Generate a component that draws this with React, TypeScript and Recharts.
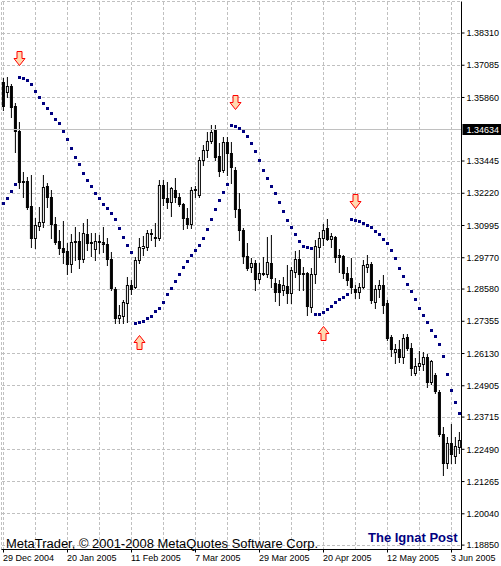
import React from 'react';
import { ComposedChart, Bar, Line, XAxis, YAxis, CartesianGrid, ReferenceLine } from 'recharts';

// EURUSD daily, 29 Dec 2004 .. 7 Jun 2005, one entry per weekday bar
const opens = [
  1.3645, 1.3607, 1.3630, 1.3554, 1.3459, 1.3269, 1.3269, 1.3174, 1.3052, 1.3098,
  1.3113, 1.3250, 1.3208, 1.3105, 1.3041, 1.3014, 1.3003, 1.2953, 1.3037, 1.3041,
  1.2972, 1.3067, 1.3033, 1.3010, 1.3041, 1.3037, 1.3029, 1.2972, 1.2858, 1.2748,
  1.2756, 1.2805, 1.2873, 1.2866, 1.2968, 1.3014, 1.3018, 1.3071, 1.3056, 1.3052,
  1.3253, 1.3204, 1.3189, 1.3234, 1.3208, 1.3181, 1.3128, 1.3105, 1.3234, 1.3215,
  1.3348, 1.3386, 1.3421, 1.3462, 1.3364, 1.3310, 1.3417, 1.3375, 1.3310, 1.3162,
  1.3082, 1.2984, 1.2942, 1.2957, 1.2896, 1.2919, 1.2915, 1.2957, 1.2881, 1.2877,
  1.2854, 1.2870, 1.2843, 1.2923, 1.2972, 1.2915, 1.2919, 1.2790, 1.2915, 1.3018,
  1.3052, 1.3090, 1.3048, 1.3056, 1.2987, 1.2984, 1.2919, 1.2900, 1.2858, 1.2847,
  1.2866, 1.2942, 1.2953, 1.2809, 1.2858, 1.2873, 1.2805, 1.2676, 1.2619, 1.2630,
  1.2600, 1.2676, 1.2634, 1.2539, 1.2566, 1.2573, 1.2600, 1.2505, 1.2531, 1.2467,
  1.2307, 1.2197, 1.2273, 1.2224, 1.2258,
];
const highs = [
  1.3660, 1.3664, 1.3637, 1.3565, 1.3493, 1.3303, 1.3284, 1.3291, 1.3128, 1.3170,
  1.3291, 1.3261, 1.3234, 1.3132, 1.3082, 1.3117, 1.3033, 1.3067, 1.3094, 1.3075,
  1.3109, 1.3124, 1.3071, 1.3071, 1.3063, 1.3094, 1.3052, 1.2999, 1.2866, 1.2797,
  1.2816, 1.2904, 1.2892, 1.2980, 1.3052, 1.3060, 1.3082, 1.3086, 1.3109, 1.3272,
  1.3272, 1.3265, 1.3246, 1.3280, 1.3223, 1.3185, 1.3166, 1.3246, 1.3250, 1.3360,
  1.3405, 1.3455, 1.3481, 1.3481, 1.3413, 1.3436, 1.3436, 1.3417, 1.3322, 1.3223,
  1.3090, 1.3033, 1.2976, 1.2968, 1.2957, 1.2980, 1.3056, 1.3063, 1.2900, 1.2892,
  1.2904, 1.2949, 1.2942, 1.3003, 1.3006, 1.2942, 1.2923, 1.2938, 1.3044, 1.3075,
  1.3105, 1.3124, 1.3071, 1.3060, 1.3010, 1.2987, 1.2942, 1.2976, 1.2873, 1.2881,
  1.2968, 1.2987, 1.2961, 1.2873, 1.2892, 1.2911, 1.2816, 1.2683, 1.2649, 1.2664,
  1.2687, 1.2687, 1.2653, 1.2596, 1.2623, 1.2619, 1.2611, 1.2588, 1.2539, 1.2474,
  1.2334, 1.2296, 1.2345, 1.2296, 1.2315,
];
const lows = [
  1.3538, 1.3588, 1.3512, 1.3379, 1.3242, 1.3208, 1.3162, 1.3018, 1.3014, 1.3082,
  1.3094, 1.3170, 1.3052, 1.3029, 1.2991, 1.2957, 1.2915, 1.2923, 1.2968, 1.2938,
  1.2961, 1.3006, 1.2984, 1.2968, 1.2995, 1.2999, 1.2949, 1.2854, 1.2729, 1.2729,
  1.2729, 1.2733, 1.2839, 1.2862, 1.2957, 1.2987, 1.3006, 1.3044, 1.3022, 1.3044,
  1.3177, 1.3166, 1.3136, 1.3189, 1.3174, 1.3086, 1.3090, 1.3090, 1.3208, 1.3208,
  1.3329, 1.3360, 1.3413, 1.3348, 1.3288, 1.3303, 1.3291, 1.3261, 1.3132, 1.3044,
  1.2957, 1.2930, 1.2923, 1.2854, 1.2881, 1.2911, 1.2904, 1.2866, 1.2813, 1.2797,
  1.2835, 1.2805, 1.2805, 1.2904, 1.2854, 1.2854, 1.2759, 1.2771, 1.2881, 1.2980,
  1.3025, 1.3044, 1.3018, 1.2961, 1.2923, 1.2900, 1.2873, 1.2843, 1.2824, 1.2824,
  1.2862, 1.2923, 1.2805, 1.2786, 1.2828, 1.2767, 1.2664, 1.2604, 1.2577, 1.2581,
  1.2577, 1.2626, 1.2531, 1.2531, 1.2550, 1.2550, 1.2486, 1.2497, 1.2463, 1.2300,
  1.2151, 1.2178, 1.2197, 1.2197, 1.2235,
];
const closes = [
  1.3554, 1.3630, 1.3550, 1.3459, 1.3265, 1.3265, 1.3170, 1.3052, 1.3101, 1.3113,
  1.3246, 1.3208, 1.3105, 1.3037, 1.3014, 1.2999, 1.2953, 1.3037, 1.3041, 1.2972,
  1.3071, 1.3033, 1.3037, 1.3041, 1.3037, 1.3029, 1.2972, 1.2862, 1.2748, 1.2759,
  1.2809, 1.2873, 1.2858, 1.2968, 1.3018, 1.3022, 1.3071, 1.3067, 1.3052, 1.3253,
  1.3204, 1.3189, 1.3242, 1.3208, 1.3181, 1.3128, 1.3105, 1.3234, 1.3238, 1.3348,
  1.3386, 1.3421, 1.3455, 1.3360, 1.3307, 1.3417, 1.3375, 1.3322, 1.3162, 1.3082,
  1.2984, 1.2938, 1.2957, 1.2896, 1.2919, 1.2915, 1.2961, 1.2900, 1.2847, 1.2847,
  1.2873, 1.2843, 1.2930, 1.2972, 1.2915, 1.2919, 1.2794, 1.2915, 1.3022, 1.3052,
  1.3082, 1.3048, 1.3060, 1.2980, 1.2980, 1.2919, 1.2892, 1.2866, 1.2847, 1.2866,
  1.2949, 1.2953, 1.2816, 1.2858, 1.2873, 1.2797, 1.2672, 1.2630, 1.2630, 1.2600,
  1.2672, 1.2634, 1.2558, 1.2566, 1.2577, 1.2600, 1.2505, 1.2585, 1.2471, 1.2307,
  1.2197, 1.2273, 1.2231, 1.2262, 1.2284,
];
// Parabolic SAR
const sar = [
  1.3185, 1.3204, 1.3231, 1.3257, 1.3664, 1.3660, 1.3652, 1.3637, 1.3611, 1.3588,
  1.3565, 1.3546, 1.3527, 1.3504, 1.3489, 1.3459, 1.3428, 1.3394, 1.3360, 1.3333,
  1.3299, 1.3272, 1.3250, 1.3223, 1.3204, 1.3181, 1.3166, 1.3147, 1.3124, 1.3090,
  1.3056, 1.3025, 1.2999, 1.2729, 1.2733, 1.2737, 1.2748, 1.2757, 1.2775, 1.2786,
  1.2809, 1.2839, 1.2862, 1.2889, 1.2915, 1.2942, 1.2965, 1.2987, 1.3006, 1.3025,
  1.3052, 1.3086, 1.3124, 1.3162, 1.3196, 1.3227, 1.3257, 1.3481, 1.3478, 1.3470,
  1.3459, 1.3440, 1.3413, 1.3383, 1.3348, 1.3310, 1.3280, 1.3250, 1.3223, 1.3189,
  1.3155, 1.3120, 1.3094, 1.3067, 1.3041, 1.3022, 1.3018, 1.3014, 1.2763, 1.2763,
  1.2771, 1.2782, 1.2794, 1.2809, 1.2820, 1.2828, 1.2839, 1.3124, 1.3120, 1.3117,
  1.3109, 1.3101, 1.3094, 1.3079, 1.3067, 1.3048, 1.3033, 1.3006, 1.2976, 1.2938,
  1.2908, 1.2877, 1.2851, 1.2820, 1.2786, 1.2759, 1.2733, 1.2702, 1.2680, 1.2649,
  1.2604, 1.2535, 1.2474, 1.2429, 1.2387,
];

// signal arrows (bar index, price at the arrow tip)
const downArrowBars = [4, 58, 88];
const downArrowPrices = [1.3709, 1.3542, 1.3166];
const upArrowBars = [34, 80];
const upArrowPrices = [1.2683, 1.2718];

// labelled dates every 16 bars, grid every 8 bars
const tickBars = [0, 16, 32, 48, 64, 80, 96, 112];
const tickDates = ['29 Dec 2004', '20 Jan 2005', '11 Feb 2005', '7 Mar 2005', '29 Mar 2005', '20 Apr 2005', '12 May 2005', '3 Jun 2005'];
const gridBars = [0, 8, 16, 24, 32, 40, 48, 56, 64, 72, 80, 88, 96, 104, 112];
const priceTicks = [
  1.3831, 1.37085, 1.3586, 1.33445, 1.3222, 1.30995, 1.2977, 1.2858,
  1.27355, 1.2613, 1.24905, 1.23715, 1.2249, 1.21265, 1.2004, 1.1885,
];
const markLine = 1.34634;
const priceDomain = [1.18683, 1.39507];

const FONT = "'Liberation Sans', Arial, sans-serif";

const data = opens.map((o, i) => {
  const d = downArrowBars.indexOf(i);
  const u = upArrowBars.indexOf(i);
  return {
    i,
    open: o,
    high: highs[i],
    low: lows[i],
    close: closes[i],
    range: [lows[i], highs[i]],
    sar: sar[i],
    down: d >= 0 ? downArrowPrices[d] : null,
    up: u >= 0 ? upArrowPrices[u] : null,
  };
});

const Candle = (props: any) => {
  const { x, y, width, height, payload } = props;
  if (x == null || y == null || !payload) return <g />;
  const { open, close, high, low } = payload;
  const top0 = Math.min(y, y + height);
  const h = Math.abs(height);
  const cx = x + width / 2;
  const py = (v: number) => top0 + ((high - v) / (high - low || 1)) * h;
  const bTop = Math.round(py(Math.max(open, close)));
  const bBot = Math.round(py(Math.min(open, close)));
  const bull = close > open;
  return (
    <g>
      <line x1={cx} x2={cx} y1={Math.round(top0)} y2={Math.round(top0 + h) + 1} stroke="#000" strokeWidth={1} />
      <rect x={cx - 1} y={bTop + 0.5} width={2} height={Math.max(bBot - bTop, 0)} fill={bull ? '#fff' : '#000'} stroke="#000" strokeWidth={1} />
    </g>
  );
};

const SarDot = (props: any) => {
  const { cx, cy, index } = props;
  if (cx == null || cy == null) return <g key={`s${index}`} />;
  return <rect key={`s${index}`} x={cx - 1.5} y={Math.round(cy) - 1} width={3} height={3} fill="#000080" />;
};

const arrowStyle = { fill: '#ffd9b0', stroke: '#ff0000', strokeWidth: 1 };

const DownArrow = (props: any) => {
  const { cx, cy, value, index } = props;
  if (value == null || cy == null) return <g key={`d${index}`} />;
  const x = cx;
  const y = Math.round(cy) + 0.5;
  const d = `M${x - 2.5},${y - 14} H${x + 2.5} V${y - 7} H${x + 5.5} L${x},${y} L${x - 5.5},${y - 7} H${x - 2.5} Z`;
  return <path key={`d${index}`} d={d} {...arrowStyle} />;
};

const UpArrow = (props: any) => {
  const { cx, cy, value, index } = props;
  if (value == null || cy == null) return <g key={`u${index}`} />;
  const x = cx;
  const y = Math.round(cy) + 0.5;
  const d = `M${x},${y} L${x + 5.5},${y + 7} H${x + 2.5} V${y + 14} H${x - 2.5} V${y + 7} H${x - 5.5} Z`;
  return <path key={`u${index}`} d={d} {...arrowStyle} />;
};

// grid ticks every 8 bars; only every 16th gets a tick mark and a date
const DateTick = (props: any) => {
  const { x, y, payload } = props;
  const k = tickBars.indexOf(payload.value);
  if (k < 0) return <g />;
  return (
    <g>
      <line x1={x} x2={x} y1={y - 3} y2={y} stroke="#000" />
      <text x={x - 0.5} y={y + 8.5} fontSize={9} fontFamily={FONT} fill="#000" textAnchor="start">
        {tickDates[k]}
      </text>
    </g>
  );
};

const PriceTag = (props: any) => {
  const { viewBox } = props;
  if (!viewBox) return null;
  const ly = Math.round(viewBox.y);
  const left = viewBox.x + viewBox.width + 1;
  return (
    <g>
      <rect x={left} y={ly - 6} width={39} height={11} fill="#000" />
      <text x={left + 4} y={ly + 3} fontSize={9} fontFamily={FONT} fill="#fff">
        {markLine.toFixed(5)}
      </text>
    </g>
  );
};

export default function App() {
  return (
    <div style={{ position: 'absolute', left: 0, top: 0, width: 501, height: 566, background: '#fff' }}>
      <ComposedChart
        width={501}
        height={566}
        data={data}
        margin={{ top: 1.5, right: 0, bottom: 0, left: 1.5 }}
        barCategoryGap="10%"
      >
        <XAxis
          dataKey="i"
          type="category"
          height={16.5}
          ticks={gridBars}
          interval={0}
          tickSize={3}
          tickMargin={0}
          tick={<DateTick />}
          axisLine={{ stroke: '#000' }}
          tickLine={false}
        />
        <XAxis
          xAxisId="top"
          orientation="top"
          dataKey="i"
          type="category"
          height={0}
          tick={false}
          tickLine={false}
          axisLine={{ stroke: '#000' }}
        />
        <YAxis
          orientation="right"
          type="number"
          width={39.5}
          domain={priceDomain}
          allowDataOverflow
          ticks={priceTicks}
          interval={0}
          tickSize={3}
          tickMargin={2}
          tickFormatter={(v: number) => v.toFixed(5)}
          tick={{ fontSize: 9, fontFamily: FONT, fill: '#000' }}
          axisLine={{ stroke: '#000' }}
          tickLine={{ stroke: '#000' }}
        />
        <YAxis
          yAxisId="frame"
          orientation="left"
          type="number"
          width={0}
          domain={[0, 1]}
          tick={false}
          tickLine={false}
          axisLine={{ stroke: '#000' }}
        />
        <CartesianGrid stroke="#c0c0c0" strokeDasharray="3 2" shapeRendering="crispEdges" />
        <ReferenceLine y={markLine} stroke="#c0c0c0" shapeRendering="crispEdges" label={<PriceTag />} />
        <Bar dataKey="range" shape={<Candle />} isAnimationActive={false} legendType="none" />
        <Line dataKey="sar" stroke="none" dot={SarDot} activeDot={false} isAnimationActive={false} legendType="none" />
        <Line dataKey="down" stroke="none" dot={DownArrow} activeDot={false} isAnimationActive={false} legendType="none" />
        <Line dataKey="up" stroke="none" dot={UpArrow} activeDot={false} isAnimationActive={false} legendType="none" />
      </ComposedChart>
      <svg width={501} height={566} style={{ position: 'absolute', left: 0, top: 0, pointerEvents: 'none' }}>
        <text x={6} y={548} fontSize={12} fontFamily={FONT} fill="#000" textLength={312} lengthAdjust="spacingAndGlyphs">
          MetaTrader, © 2001-2008 MetaQuotes Software Corp.
        </text>
        <text x={368} y={542} fontSize={13} fontWeight="bold" fontFamily={FONT} fill="#000080">
          The Ignat Post
        </text>
      </svg>
    </div>
  );
}
